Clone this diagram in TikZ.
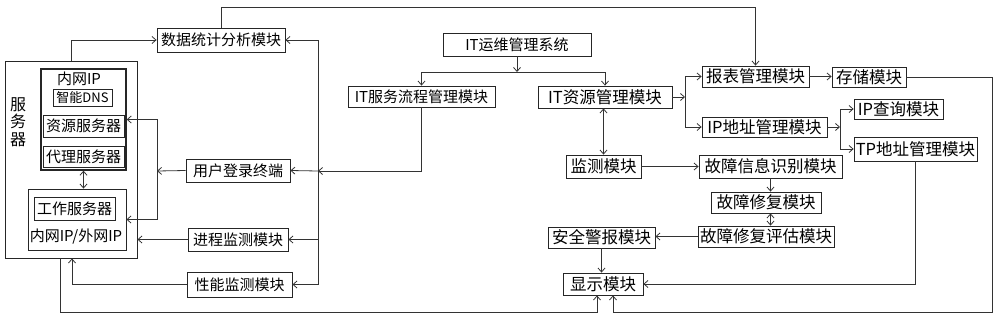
\documentclass[tikz,border=0pt]{standalone}
\usepackage{fontspec}
\setmainfont{Noto Sans CJK SC}
\usetikzlibrary{arrows.meta}

\begin{document}
\begin{tikzpicture}[
  x=1pt, y=-1pt, >={Straight Barb[length=4pt,width=7pt]},
  font=\fontsize{15}{17}\selectfont,
  box/.style={draw=black!85, line width=0.8pt, inner sep=0pt, minimum height=21pt},
  bigbox/.style={box, font=\fontsize{16.5}{18}\selectfont},
  line/.style={draw=black!80, line width=0.8pt},
  lbl/.style={inner sep=0pt}
]
  \useasboundingbox (0,0) rectangle (1000,319);

  % server block
  \node[box, minimum width=132pt, minimum height=197pt] (server) at (71,159.5) {};
  \node[lbl, align=center, font=\fontsize{16}{17.5}\selectfont] (srvlbl) at (18,122) {服\\务\\器};
  \node[box, line width=1.3pt, minimum width=85pt, minimum height=101pt] (lan) at (83.5,119.5) {};
  \node[lbl] (lanlbl) at (79,79) {内网IP};
  \node[box, minimum width=59pt, minimum height=17pt, font=\fontsize{13}{15}\selectfont] (dns) at (82.5,97.5) {智能DNS};
  \node[box, minimum width=81pt, minimum height=22pt] (res) at (83.5,126) {资源服务器};
  \node[box, minimum width=81pt, minimum height=21pt] (proxy) at (83.5,157) {代理服务器};
  \node[box, minimum width=98pt, minimum height=61pt] (work) at (77,219.5) {};
  \node[box, minimum width=81pt, minimum height=23pt] (worksrv) at (74.5,208.5) {工作服务器};
  \node[lbl] (worklbl) at (76,237) {内网IP/外网IP};

  % left column
  \node[box, minimum width=128pt, minimum height=24pt] (stat) at (221,40) {数据统计分析模块};
  \node[box, minimum width=104pt, minimum height=23pt] (login) at (238,170.5) {用户登录终端};
  \node[box, minimum width=100pt, minimum height=23pt] (proc) at (238,239.5) {进程监测模块};
  \node[box, minimum width=105pt, minimum height=25pt] (perf) at (239.5,284.5) {性能监测模块};

  % system tree
  \node[box, minimum width=148pt, minimum height=23pt] (sys) at (517,44.5) {IT运维管理系统};
  \node[box, minimum width=147pt] (itsvc) at (421.5,96.5) {IT服务流程管理模块};
  \node[bigbox, minimum width=134pt, minimum height=22pt] (itres) at (605,97) {IT资源管理模块};
  \node[bigbox, minimum width=107pt] (report) at (755.5,76.5) {报表管理模块};
  \node[bigbox, minimum width=74pt, minimum height=20pt] (store) at (869,77) {存储模块};
  \node[bigbox, minimum width=125pt, minimum height=20pt] (ipmgr) at (764.5,127) {IP地址管理模块};
  \node[bigbox, minimum width=89pt, minimum height=20pt] (ipq) at (898.5,109) {IP查询模块};
  \node[bigbox, minimum width=123pt, minimum height=24pt] (tpmgr) at (915.5,149) {TP地址管理模块};
  \node[bigbox, minimum width=75pt, minimum height=23pt] (monitor) at (603.5,166.5) {监测模块};
  \node[bigbox, minimum width=143pt, minimum height=23pt] (faultid) at (770.5,166.5) {故障信息识别模块};
  \node[bigbox, minimum width=110pt] (fix) at (766,202.5) {故障修复模块};
  \node[bigbox, minimum width=136pt] (evalf) at (766,236.5) {故障修复评估模块};
  \node[bigbox, minimum width=107pt] (alarm) at (601.5,237.5) {安全警报模块};
  \node[bigbox, minimum width=80pt, minimum height=22pt] (disp) at (603,284) {显示模块};

  \coordinate (split) at (517,72);
  \coordinate (bus) at (318,171);
  \coordinate (fork1) at (685,97);
  \coordinate (fork2) at (840,127);
  \coordinate (fork3) at (157,171);

  \draw[line,->] (sys.south) -- (split);
  \draw[line,->] (split) -| (itsvc.north);
  \draw[line,->] (split) -| (itres.north);
  \draw[line,<->] (monitor.north |- itres.south) -- (monitor.north);
  \draw[line,->] (itres.east) -- (fork1);
  \draw[line,->] (fork1) |- (report.west);
  \draw[line,->] (fork1) |- (ipmgr.west);
  \draw[line,->] (report.east) -- (report.east -| store.west);
  \draw[line,->] (ipmgr.east) -- (fork2);
  \draw[line,->] (fork2) |- (ipq.west);
  \draw[line,->] (fork2) |- (tpmgr.west);
  \draw[line,->] (monitor.east) -- (monitor.east -| faultid.west);
  \draw[line,->] (faultid.south) -- (faultid.south |- fix.north);
  \draw[line,<->] (faultid.south |- fix.south) -- (faultid.south |- evalf.north);
  \draw[line,->] (evalf.west) -- (evalf.west -| alarm.east);
  \draw[line,->] (alarm.south) -- (alarm.south |- disp.north);
  \draw[line,->] (tpmgr.south) |- (disp.east);
  \draw[line,->] (store.east) -| (992,312) -| ([xshift=10pt]disp.south);
  \draw[line,->] ([xshift=-11pt]server.south) -- ++(0,54) -| ([xshift=-6pt]disp.south);

  % feeds from the service flow module
  \draw[line,->] (server.north) |- (stat.west);
  \draw[line,->] (stat.north) -- ++(0,-20) -| (report.north);
  \draw[line,->] (itsvc.south) |- (bus);
  \draw[line,->] (bus) -- (login.east);
  \draw[line,->] (bus) |- (stat.east);
  \draw[line,->] (bus) |- (proc.east);
  \draw[line,->] (bus) |- (perf.east);
  \draw[line,->] (login.west) -- (fork3);
  \draw[line,->] (fork3) |- (lan.east);
  \draw[line,->] (fork3) |- (work.east);
  \draw[line,->] (proc.west) -- (proc.west -| server.east);
  \draw[line,->] (perf.west) -| ([xshift=1pt]server.south);
  \draw[line,<->] (lan.south) -- (lan.south |- work.north);
\end{tikzpicture}
\end{document}
